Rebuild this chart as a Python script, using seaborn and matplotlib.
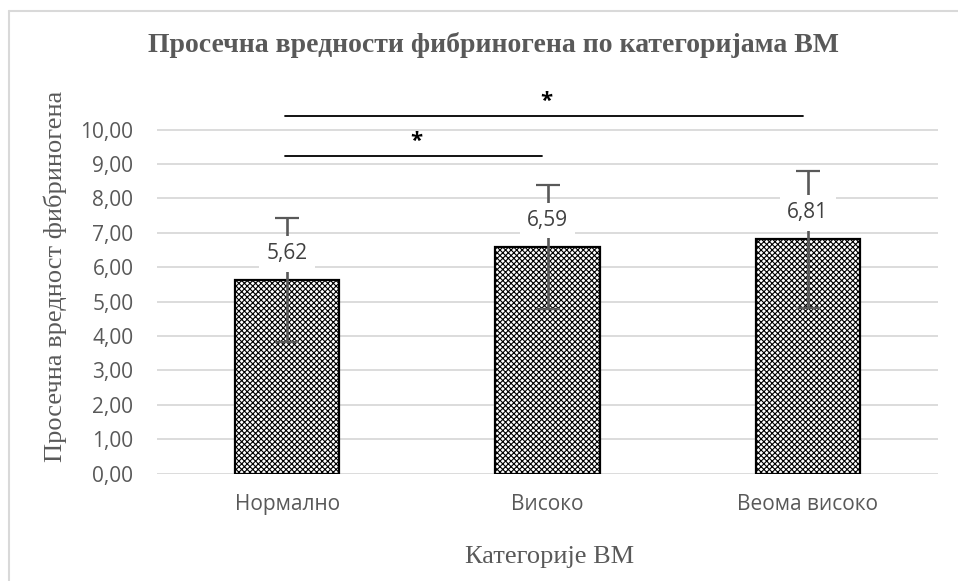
import matplotlib
matplotlib.use("Agg")
import matplotlib.pyplot as plt
import seaborn as sns
import pandas as pd
from matplotlib.lines import Line2D

# Mean fibrinogen by BM category, with standard deviations
categories = ["Нормално", "Високо", "Веома високо"]
means = [5.62, 6.59, 6.81]
sds = [1.80, 1.80, 2.00]
yticks = [0, 1, 2, 3, 4, 5, 6, 7, 8, 9, 10]

# Significant pairwise differences: (from index, to index, bar height)
sig_pairs = [(0, 1, 9.24), (0, 2, 10.40)]

df = pd.DataFrame({"cat": categories, "mean": means, "sd": sds})

sns.set_theme(style="white")
plt.rcParams["hatch.color"] = "#a3a3a3"
plt.rcParams["hatch.linewidth"] = 0.8

fig = plt.figure(figsize=(9.58, 5.81), dpi=100)
ax = fig.add_axes([157 / 958, 107.4 / 581, 781 / 958, 364.6 / 581])

sns.barplot(data=df, x="cat", y="mean", ax=ax, width=0.4, color="white",
            edgecolor="black", linewidth=1.6, errorbar=None, zorder=2)
for p in ax.patches:
    p.set_hatch("xxxxxx")

eb = ax.errorbar(range(len(categories)), df["mean"], yerr=df["sd"],
                 fmt="none", ecolor="#595959", elinewidth=1.9, capsize=8.5,
                 capthick=1.6, zorder=6)
for coll in eb.lines[2]:
    coll.set_snap(True)

for i, m in enumerate(means):
    ax.annotate(f"{m:.2f}".replace(".", ","), (i, m), xytext=(0, 19),
                textcoords="offset points", ha="center", va="center",
                fontsize=15, color="#404040", family="Open Sans",
                bbox=dict(boxstyle="square,pad=0.35", fc="white", ec="none"),
                zorder=7)

# significance brackets
for a, b, h in sig_pairs:
    ax.plot([a - 0.01, b - 0.02], [h, h], color="black", lw=1.3, zorder=5,
            clip_on=False)
    ax.text((a + b) / 2 - 0.005, h + 0.12, "*", ha="center", va="bottom",
            fontsize=16, fontweight="bold", color="black", family="Open Sans",
            zorder=5)

ax.set_xlim(-0.5, 2.5)
ax.set_ylim(0, 10.6)
ax.set_yticks(yticks)
ax.set_yticklabels([f"{v:.2f}".replace(".", ",") for v in yticks],
                   fontsize=15, color="#595959", family="Open Sans")
ax.set_xticks(range(len(categories)))
ax.set_xticklabels(categories, fontsize=15, color="#595959",
                   family="Open Sans")
ax.tick_params(axis="y", length=0, pad=17)
ax.tick_params(axis="x", length=0, pad=15)
ax.yaxis.grid(True, color="#d9d9d9", lw=1.3, zorder=0)
ax.set_axisbelow(True)
for s in ax.spines.values():
    s.set_visible(False)

ax.set_xlabel("Категорије ВМ", fontsize=19, color="#595959",
              family="Liberation Serif", va="center")
ax.xaxis.set_label_coords(0.503, -0.228)
ax.set_ylabel("Просечна вредност фибриногена", fontsize=19, color="#595959",
              family="Liberation Serif", va="center")
ax.yaxis.set_label_coords(-0.1306, 0.54)
fig.text(493 / 958, 1 - 45 / 581,
         "Просечна вредности фибриногена по категоријама ВМ",
         ha="center", va="center", fontsize=20, fontweight="bold",
         color="#595959", family="Liberation Serif")

# chart area frame
fig.add_artist(Line2D([8.5 / 958, 8.5 / 958], [0, 1 - 10.5 / 581],
                      transform=fig.transFigure, color="#d9d9d9", lw=1.5))
fig.add_artist(Line2D([8.5 / 958, 1], [1 - 10.5 / 581, 1 - 10.5 / 581],
                      transform=fig.transFigure, color="#d9d9d9", lw=1.5))

fig.savefig("out.png", dpi=100, facecolor="white")
